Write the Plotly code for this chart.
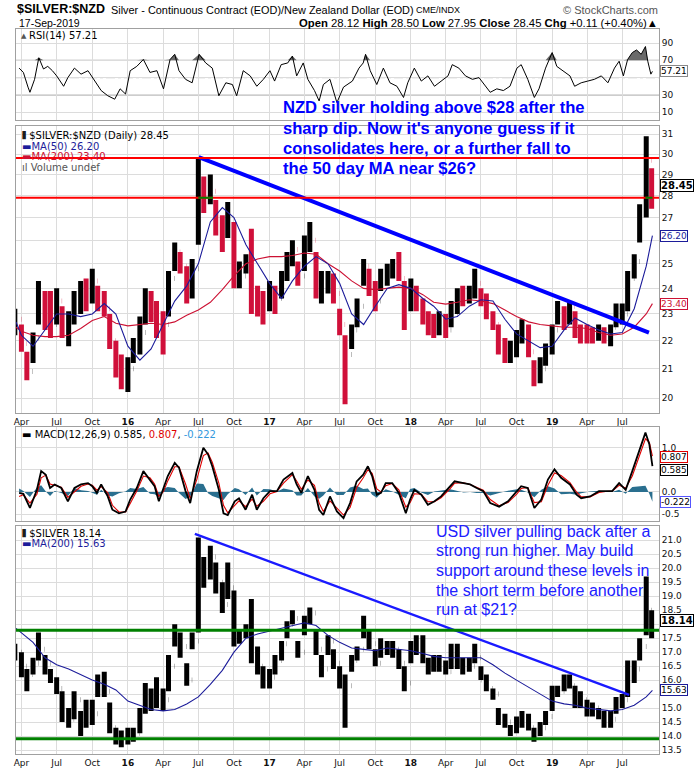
import math
import numpy as np
import pandas as pd
import plotly.graph_objects as go

# ---------------- data ----------------
bar_dates = pd.date_range("2015-03-15", "2019-09-15", freq="SMS")

nzd_first_open = 22.6
nzd_high = [23.2, 22.6, 21.6, 22.3, 24.3, 23.9, 23.9, 24.0, 23.3, 23.1,
            23.9, 24.3, 24.4, 24.8, 24.1, 23.9, 23.0, 22.0, 21.5, 21.4,
            22.1, 22.9, 24.0, 23.9, 23.5, 23.1, 24.7, 25.9, 25.5, 24.9,
            25.2, 29.8, 28.9, 29.0, 27.8, 27.1, 27.7, 26.8, 25.1, 25.4,
            26.5, 24.1, 23.9, 24.3, 24.1, 24.7, 25.5, 26.0, 25.1, 26.2,
            26.8, 25.5, 24.7, 24.7, 24.6, 23.2, 22.2, 22.6, 23.6, 25.2,
            24.8, 24.3, 24.8, 25.0, 25.2, 25.5, 24.3, 24.4, 24.1, 23.6,
            23.1, 23.0, 23.1, 23.0, 23.5, 24.0, 24.1, 24.1, 24.8, 24.0,
            23.8, 23.1, 22.6, 22.1, 22.0, 22.4, 22.8, 22.6, 21.3, 21.4,
            21.9, 22.6, 23.5, 23.3, 23.5, 23.1, 22.6, 22.6, 22.5, 22.6,
            22.5, 22.6, 23.4, 23.4, 24.7, 25.4, 27.6, 30.9, 29.3]
nzd_low = [22.2, 21.6, 20.6, 21.2, 22.6, 22.4, 22.1, 22.6, 22.1, 21.8,
           22.6, 23.0, 23.1, 23.4, 23.1, 22.9, 21.7, 20.7, 20.3, 20.2,
           21.2, 21.5, 22.6, 22.7, 22.1, 21.5, 22.9, 24.7, 24.6, 23.4,
           23.6, 25.8, 27.2, 27.6, 26.2, 25.5, 26.1, 24.0, 24.0, 24.6,
           23.0, 22.9, 22.6, 23.1, 23.0, 23.6, 24.3, 24.9, 24.1, 24.7,
           25.5, 23.6, 23.4, 23.8, 23.4, 22.2, 19.8, 21.7, 22.5, 24.1,
           23.7, 23.1, 23.9, 24.1, 24.4, 24.3, 22.4, 23.1, 23.1, 22.6,
           22.2, 22.1, 22.2, 22.1, 22.5, 23.0, 23.3, 23.4, 23.6, 23.3,
           22.8, 22.4, 21.5, 21.2, 21.2, 21.4, 21.9, 21.4, 20.4, 20.5,
           21.1, 21.5, 22.6, 22.4, 22.6, 22.1, 21.9, 21.9, 21.9, 22.0,
           21.9, 21.8, 22.5, 22.6, 23.1, 24.4, 25.9, 27.0, 27.4]
nzd_close = [22.8, 21.9, 20.9, 22.1, 23.5, 23.0, 22.6, 23.5, 22.5, 22.7,
             23.4, 23.8, 23.6, 24.3, 23.7, 23.2, 22.0, 21.2, 20.8, 21.0,
             21.8, 22.3, 23.5, 23.2, 22.8, 22.6, 24.4, 25.5, 24.9, 23.9,
             24.8, 28.6, 28.0, 28.2, 26.7, 26.2, 26.6, 24.4, 24.5, 25.0,
             23.4, 23.3, 23.2, 23.8, 23.6, 24.4, 25.1, 25.6, 24.5, 25.8,
             26.0, 24.0, 24.2, 24.4, 23.8, 22.6, 21.5, 22.4, 23.3, 24.9,
             24.0, 23.5, 24.5, 24.7, 24.8, 24.4, 23.3, 24.0, 23.5, 22.9,
             22.6, 22.5, 22.7, 22.4, 23.0, 23.7, 23.6, 23.9, 24.2, 23.5,
             23.0, 22.6, 21.7, 21.5, 21.6, 22.0, 22.3, 21.6, 20.8, 21.0,
             21.6, 22.4, 23.1, 22.8, 23.3, 22.3, 22.3, 22.2, 22.1, 22.3,
             22.0, 22.5, 22.9, 23.0, 24.4, 25.1, 27.3, 29.7, 28.45]

usd_first_open = 17.0
usd_high = [17.3, 17.0, 16.4, 16.8, 17.7, 16.9, 16.4, 16.1, 15.6, 15.0,
            15.6, 14.9, 15.3, 15.3, 16.2, 16.3, 15.2, 14.3, 14.2, 14.3,
            14.3, 15.0, 15.9, 15.7, 16.1, 15.7, 16.9, 18.0, 17.7, 16.6,
            17.7, 21.1, 20.4, 20.8, 20.2, 19.5, 20.2, 19.2, 17.8, 18.0,
            18.9, 17.2, 16.5, 16.4, 16.9, 17.4, 18.1, 18.5, 17.4, 18.3,
            18.6, 17.8, 16.9, 17.6, 17.1, 16.5, 16.2, 16.9, 17.2, 18.3,
            17.8, 17.1, 17.5, 17.4, 17.4, 17.1, 16.5, 17.4, 17.6, 17.6,
            16.8, 16.9, 16.9, 16.7, 17.3, 17.3, 16.8, 16.8, 17.3, 16.5,
            16.2, 15.7, 15.0, 14.8, 14.4, 14.7, 14.9, 14.8, 14.3, 14.5,
            14.9, 15.8, 15.8, 16.2, 16.2, 15.8, 15.6, 15.3, 15.2, 15.0,
            14.9, 14.9, 15.4, 15.5, 16.7, 16.7, 17.5, 19.7, 18.5]
usd_low = [16.7, 16.1, 15.6, 16.2, 16.7, 16.2, 15.9, 15.5, 14.5, 14.3,
           14.6, 14.0, 14.3, 14.4, 15.4, 15.4, 14.1, 13.7, 13.6, 13.7,
           13.8, 14.1, 14.8, 14.9, 15.0, 14.9, 15.6, 17.2, 16.8, 15.8,
           17.1, 17.7, 19.3, 19.6, 19.1, 18.4, 18.9, 17.2, 17.3, 17.5,
           16.6, 16.2, 15.7, 15.7, 16.2, 16.7, 17.5, 18.0, 16.8, 17.6,
           18.0, 16.9, 16.1, 16.9, 16.4, 15.7, 14.3, 16.3, 16.7, 17.5,
           17.1, 16.5, 16.8, 16.9, 16.8, 16.4, 15.6, 16.6, 16.9, 16.6,
           16.2, 16.3, 16.3, 16.2, 16.4, 16.4, 16.2, 16.3, 16.6, 16.0,
           15.6, 15.3, 14.4, 14.3, 14.0, 14.1, 14.3, 14.2, 13.8, 14.0,
           14.4, 14.9, 15.4, 15.6, 15.7, 15.0, 15.0, 14.7, 14.7, 14.6,
           14.3, 14.3, 14.8, 15.0, 15.4, 15.9, 16.7, 17.6, 17.5]
usd_close = [17.0, 16.5, 16.2, 16.6, 17.1, 16.6, 16.0, 15.7, 14.9, 14.6,
             15.3, 14.5, 14.8, 14.8, 15.9, 15.6, 14.3, 14.0, 13.9, 14.0,
             14.1, 14.9, 15.4, 15.3, 15.6, 15.3, 16.5, 17.6, 17.2, 16.0,
             17.4, 19.8, 20.0, 20.4, 19.5, 18.7, 19.3, 17.4, 17.6, 17.8,
             16.7, 16.5, 15.9, 16.1, 16.7, 17.3, 18.0, 18.2, 17.0, 18.2,
             18.4, 17.1, 16.4, 17.4, 16.6, 15.9, 15.8, 16.7, 17.1, 17.7,
             17.3, 16.6, 17.2, 17.0, 17.1, 16.6, 15.9, 17.2, 17.1, 16.7,
             16.5, 16.5, 16.5, 16.3, 16.5, 16.7, 16.4, 16.5, 16.8, 16.0,
             15.7, 15.5, 14.6, 14.5, 14.2, 14.6, 14.6, 14.3, 14.1, 14.3,
             14.7, 15.5, 15.6, 15.8, 15.8, 15.1, 15.3, 15.0, 15.0, 14.8,
             14.5, 14.6, 15.1, 15.3, 16.1, 16.4, 17.2, 18.5, 18.14]

ma_dates = (["2015-03-18"]
            + [d.strftime("%Y-%m-%d") for d in pd.date_range("2015-04-01", "2019-09-01", freq="MS")]
            + ["2019-09-17"])
nzd_ma50 = [22.7, 22.2, 21.8, 22.4, 23.0, 23.0, 22.9, 23.0, 23.4, 23.0,
            21.8, 21.3, 21.7, 22.6, 23.5, 24.1, 25.0, 26.8, 27.45, 27.0,
            25.8, 25.0, 24.2, 23.6, 24.3, 24.9, 25.3, 25.0, 24.2, 23.0,
            22.6, 23.3, 24.0, 24.15, 24.0, 23.6, 23.3, 22.8, 22.9, 23.3,
            23.55, 23.5, 22.8, 22.25, 22.0, 21.75, 21.8, 22.4, 22.85, 22.6,
            22.4, 22.25, 22.3, 23.2, 24.9, 26.2]
nzd_ma200 = [22.5, 22.35, 22.2, 22.15, 22.15, 22.2, 22.45, 22.75, 22.9, 22.65,
             22.55, 22.6, 22.65, 22.6, 22.7, 22.95, 23.15, 23.45, 23.95, 24.5,
             25.0, 25.2, 25.3, 25.3, 25.35, 25.45, 25.4, 25.0, 24.7, 24.3,
             24.0, 23.95, 24.0, 24.05, 24.0, 23.75, 23.45, 23.38, 23.45, 23.55,
             23.5, 23.4, 23.15, 22.9, 22.7, 22.6, 22.55, 22.5, 22.5, 22.45,
             22.3, 22.2, 22.25, 22.5, 23.0, 23.4]
usd_ma200 = [17.85, 17.7, 17.35, 16.8, 16.55, 16.4, 16.2, 16.0, 15.85, 15.65,
             15.25, 15.1, 14.95, 14.9, 14.95, 15.15, 15.4, 15.85, 16.35, 17.0,
             17.5, 17.65, 17.75, 17.85, 17.95, 18.05, 17.95, 17.6, 17.35, 17.15,
             17.1, 17.05, 17.15, 17.1, 17.05, 16.95, 16.85, 16.8, 16.8, 16.8,
             16.8, 16.55, 16.25, 16.0, 15.75, 15.5, 15.25, 15.15, 15.1, 15.0,
             14.95, 14.9, 14.95, 15.1, 15.4, 15.63]

rsi_dates = [
    "2015-03-26", "2015-04-06", "2015-04-18", "2015-04-23", "2015-05-05", "2015-05-16", "2015-05-28", "2015-06-08", "2015-06-20", "2015-07-01",
    "2015-07-19", "2015-07-30", "2015-08-16", "2015-09-02", "2015-09-20", "2015-10-07", "2015-10-24", "2015-11-10", "2015-11-28", "2015-12-12",
    "2015-12-26", "2016-01-07", "2016-01-24", "2016-02-10", "2016-02-27", "2016-03-16", "2016-04-02", "2016-04-19", "2016-05-01", "2016-05-12",
    "2016-05-29", "2016-06-15", "2016-07-03", "2016-07-20", "2016-08-06", "2016-08-23", "2016-09-10", "2016-09-27", "2016-10-08", "2016-10-25",
    "2016-11-12", "2016-11-29", "2016-12-16", "2017-01-02", "2017-01-14", "2017-01-31", "2017-02-17", "2017-03-01", "2017-03-12", "2017-03-29",
    "2017-04-10", "2017-04-27", "2017-05-09", "2017-05-20", "2017-06-06", "2017-06-24", "2017-07-11", "2017-08-03", "2017-08-20", "2017-08-31",
    "2017-09-06", "2017-09-18", "2017-10-05", "2017-10-22", "2017-11-08", "2017-11-26", "2017-12-13", "2017-12-24", "2018-01-10", "2018-01-28",
    "2018-02-14", "2018-03-03", "2018-03-20", "2018-04-07", "2018-04-18", "2018-05-05", "2018-05-22", "2018-06-09", "2018-06-26", "2018-07-13",
    "2018-07-25", "2018-08-11", "2018-08-28", "2018-09-14", "2018-10-02", "2018-10-13", "2018-10-30", "2018-11-16", "2018-11-28", "2018-12-15",
    "2019-01-01", "2019-01-13", "2019-01-30", "2019-02-16", "2019-02-28", "2019-03-17", "2019-04-03", "2019-04-20", "2019-05-08", "2019-05-25",
    "2019-06-11", "2019-06-23", "2019-07-04", "2019-07-15", "2019-07-27", "2019-08-07", "2019-08-19", "2019-08-30", "2019-09-05", "2019-09-13",
    "2019-09-17"]
rsi_values = [61, 56, 39, 33, 48, 73, 60, 63, 58, 52,
              40, 50, 61, 54, 58, 46, 35, 29, 25, 37,
              31, 58, 63, 71, 56, 58, 37, 71, 77, 58,
              48, 44, 77, 67, 61, 29, 44, 42, 29, 58,
              52, 40, 48, 58, 46, 65, 67, 75, 52, 67,
              48, 35, 23, 42, 48, 21, 39, 46, 61, 67,
              77, 58, 42, 61, 44, 40, 27, 44, 61, 46,
              52, 40, 46, 52, 65, 61, 52, 48, 50, 40,
              33, 37, 35, 40, 61, 65, 48, 27, 37, 61,
              79, 63, 58, 52, 40, 44, 46, 48, 52, 44,
              61, 69, 52, 71, 79, 82, 77, 86, 69, 54,
              57.21]

macd_dates = [
    "2015-03-26", "2015-04-06", "2015-04-23", "2015-05-11", "2015-05-22", "2015-06-03", "2015-06-14", "2015-06-26", "2015-07-13", "2015-07-30",
    "2015-08-16", "2015-09-02", "2015-09-20", "2015-10-01", "2015-10-13", "2015-10-24", "2015-11-10", "2015-11-22", "2015-12-09", "2015-12-26",
    "2016-01-07", "2016-01-24", "2016-02-10", "2016-02-27", "2016-03-10", "2016-03-21", "2016-04-02", "2016-04-13", "2016-05-01", "2016-05-12",
    "2016-05-29", "2016-06-10", "2016-06-27", "2016-07-14", "2016-07-26", "2016-08-06", "2016-08-23", "2016-09-04", "2016-09-15", "2016-10-03",
    "2016-10-14", "2016-10-31", "2016-11-17", "2016-11-29", "2016-12-16", "2017-01-02", "2017-01-20", "2017-02-06", "2017-03-01", "2017-03-12",
    "2017-03-24", "2017-04-10", "2017-04-27", "2017-05-09", "2017-05-20", "2017-06-06", "2017-06-24", "2017-07-11", "2017-07-28", "2017-08-14",
    "2017-08-31", "2017-09-12", "2017-09-23", "2017-10-05", "2017-10-16", "2017-10-28", "2017-11-14", "2017-12-01", "2017-12-19", "2017-12-30",
    "2018-01-10", "2018-01-28", "2018-02-14", "2018-03-03", "2018-03-20", "2018-04-12", "2018-04-24", "2018-05-17", "2018-06-03", "2018-06-20",
    "2018-07-07", "2018-07-25", "2018-08-17", "2018-09-09", "2018-10-02", "2018-10-13", "2018-10-30", "2018-11-16", "2018-12-04", "2018-12-21",
    "2019-01-07", "2019-01-24", "2019-02-16", "2019-03-05", "2019-03-17", "2019-04-09", "2019-05-02", "2019-05-19", "2019-06-05", "2019-06-23",
    "2019-07-10", "2019-07-27", "2019-08-13", "2019-08-30", "2019-09-09", "2019-09-17"]
macd_line = [-0.02, -0.04, -0.36, 0.05, 0.47, 0.39, 0.09, 0.17, 0.09, -0.21,
             0.09, 0.17, 0.20, 0.13, -0.02, 0.17, -0.10, -0.40, -0.48, -0.44,
             -0.17, 0.09, 0.47, 0.28, 0.13, -0.21, 0.09, 0.36, 0.66, 0.55,
             0.02, -0.25, 0.47, 1.00, 0.85, 0.58, 0.05, -0.48, -0.52, -0.21,
             -0.14, -0.40, -0.06, -0.40, -0.14, 0.02, 0.02, 0.28, 0.43, 0.17,
             -0.02, 0.36, 0.05, -0.40, -0.52, -0.10, -0.44, -0.59, -0.25, 0.24,
             0.39, 0.58, 0.36, -0.06, -0.02, 0.20, 0.20, -0.02, -0.48, -0.17,
             0.05, -0.06, -0.29, -0.21, -0.10, 0.13, 0.24, 0.20, 0.17, 0.09,
             0.02, -0.25, -0.33, -0.21, 0.02, 0.13, 0.09, -0.36, -0.17, 0.28,
             0.51, 0.32, 0.17, -0.06, -0.14, -0.10, 0.02, 0.02, 0.02, 0.20,
             0.05, 0.47, 0.89, 1.34, 1.08, 0.585]
macd_signal = [-0.10, -0.06, -0.25, -0.05, 0.32, 0.38, 0.18, 0.15, 0.11, -0.12,
               0.00, 0.13, 0.18, 0.15, 0.04, 0.12, -0.02, -0.30, -0.45, -0.45,
               -0.26, 0.02, 0.36, 0.32, 0.18, -0.10, 0.01, 0.25, 0.57, 0.57,
               0.18, -0.15, 0.28, 0.82, 0.88, 0.67, 0.20, -0.30, -0.47, -0.30,
               -0.20, -0.33, -0.16, -0.32, -0.21, -0.04, 0.01, 0.20, 0.39, 0.25,
               0.06, 0.27, 0.15, -0.25, -0.44, -0.20, -0.37, -0.52, -0.35, 0.10,
               0.32, 0.50, 0.42, 0.07, 0.00, 0.14, 0.19, 0.05, -0.34, -0.24,
               -0.04, -0.05, -0.22, -0.22, -0.13, 0.07, 0.20, 0.21, 0.17, 0.11,
               0.04, -0.17, -0.31, -0.24, -0.04, 0.08, 0.10, -0.24, -0.22, 0.15,
               0.43, 0.37, 0.21, 0.00, -0.11, -0.11, -0.01, 0.01, 0.02, 0.15,
               0.09, 0.36, 0.77, 1.20, 1.12, 0.807]

# chart annotations (levels / trend lines / day quote)
nzd_levels = [29.8, 27.9]
usd_levels = [17.78, 13.9]
nzd_trend_dates = ["2016-07-02", "2019-09-08"]
nzd_trend_values = [29.85, 22.3]
usd_trend_dates = ["2016-06-22", "2019-07-19"]
usd_trend_values = [21.23, 15.47]
nzd_mark_dates = [["2016-07-01", "2016-08-08"], ["2019-08-30", "2019-09-17"]]
day_quote = {"Open": "28.12", "High": "28.50", "Low": "27.95", "Close": "28.45"}
day_chg = "+0.11 (+0.40%)"
nzd_note = ["NZD silver holding above $28 after the",
            "sharp dip. Now it's anyone guess if it",
            "consolidates here, or a further fall to",
            "the 50 day MA near $26?"]
usd_note = ["USD silver pulling back after a",
            "strong run higher. May build",
            "support around these levels in",
            "the short term before another",
            "run at $21?"]

# ---------------- layout helpers ----------------
W, H = 700, 780
L, R, T, B = 16, 41, 29, 16
PW, PH = W - L - R, H - T - B
GRID = "#dcdcdc"
BORDER = "#a0a0a0"
TF = "DejaVu Sans, Verdana, sans-serif"
AF = "Liberation Sans, Arial, sans-serif"
NAVY = "#1c1c9a"
CRIM = "#cc1133"
BAR_W = 5


def dom(top_px, bot_px):
    return [(H - B - bot_px) / PH, (H - B - top_px) / PH]


def px(x):
    return (x - L) / PW


def py(y):
    return (H - B - y) / PH


x_range = ["2015-03-18", "2019-10-04"]
qticks = pd.date_range("2015-04-01", "2019-07-01", freq="QS")
qtext = [f"<b>{d.strftime('%y')}</b>" if d.month == 1 else d.strftime("%b") for d in qticks]

nzd_open = [nzd_first_open] + nzd_close[:-1]
usd_open = [usd_first_open] + usd_close[:-1]
macd_hist = (np.array(macd_line) - np.array(macd_signal)).tolist()

fig = go.Figure()

# RSI panel
fig.add_trace(go.Scatter(x=rsi_dates, y=[70] * len(rsi_dates), mode="lines",
                         line=dict(width=0), hoverinfo="skip", xaxis="x", yaxis="y"))
fig.add_trace(go.Scatter(x=rsi_dates, y=np.maximum(np.array(rsi_values), 70).tolist(), mode="lines",
                         line=dict(width=0), fill="tonexty", fillcolor="rgba(90,90,90,0.9)",
                         hoverinfo="skip", xaxis="x", yaxis="y"))
fig.add_trace(go.Scatter(x=rsi_dates, y=rsi_values, mode="lines", line=dict(color="black", width=1),
                         xaxis="x", yaxis="y"))

# NZD price panel
fig.add_trace(go.Ohlc(x=bar_dates, open=nzd_open, high=nzd_high, low=nzd_low, close=nzd_close,
                      increasing=dict(line=dict(color="black", width=BAR_W)),
                      decreasing=dict(line=dict(color="#d0103a", width=BAR_W)),
                      tickwidth=0.05, hoverinfo="skip", xaxis="x2", yaxis="y2"))
fig.add_trace(go.Scatter(x=ma_dates, y=nzd_ma200, mode="lines", line=dict(color=CRIM, width=1.1),
                         xaxis="x2", yaxis="y2"))
fig.add_trace(go.Scatter(x=ma_dates, y=nzd_ma50, mode="lines", line=dict(color=NAVY, width=1.1),
                         xaxis="x2", yaxis="y2"))
fig.add_trace(go.Scatter(x=nzd_trend_dates, y=nzd_trend_values, mode="lines",
                         line=dict(color="#0000ff", width=4), xaxis="x2", yaxis="y2"))

# MACD panel
fig.add_trace(go.Scatter(x=macd_dates, y=macd_hist, mode="lines", line=dict(width=0, color="#2a6f8f"),
                         fill="tozeroy", fillcolor="#2a6f8f", xaxis="x3", yaxis="y3"))
fig.add_trace(go.Scatter(x=macd_dates, y=macd_signal, mode="lines", line=dict(color="#e00000", width=1.1),
                         xaxis="x3", yaxis="y3"))
fig.add_trace(go.Scatter(x=macd_dates, y=macd_line, mode="lines", line=dict(color="black", width=1.8),
                         xaxis="x3", yaxis="y3"))

# USD price panel
fig.add_trace(go.Ohlc(x=bar_dates, open=usd_open, high=usd_high, low=usd_low, close=usd_close,
                      increasing=dict(line=dict(color="black", width=BAR_W)),
                      decreasing=dict(line=dict(color="black", width=BAR_W)),
                      tickwidth=0.05, hoverinfo="skip", xaxis="x4", yaxis="y4"))
fig.add_trace(go.Scatter(x=ma_dates, y=usd_ma200, mode="lines", line=dict(color=NAVY, width=1.1),
                         xaxis="x4", yaxis="y4"))
fig.add_trace(go.Scatter(x=usd_trend_dates, y=usd_trend_values, mode="lines",
                         line=dict(color="#1a1aff", width=2.5), xaxis="x4", yaxis="y4"))

shapes = []
for lv in nzd_levels:
    shapes.append(dict(type="line", xref="x2 domain", yref="y2", x0=0, x1=1, y0=lv, y1=lv,
                       line=dict(color="#ff0000", width=2)))
for d0, d1 in nzd_mark_dates:
    shapes.append(dict(type="line", xref="x2", yref="y2", x0=d0, x1=d1, y0=nzd_levels[1], y1=nzd_levels[1],
                       line=dict(color="#008000", width=2)))
for lv in usd_levels:
    shapes.append(dict(type="line", xref="x4 domain", yref="y4", x0=0, x1=1, y0=lv, y1=lv,
                       line=dict(color="#008000", width=3)))
for lv, dash in [(70, "solid"), (30, "solid"), (50, "dashdot")]:
    shapes.append(dict(type="line", xref="x domain", yref="y", x0=0, x1=1, y0=lv, y1=lv, layer="below",
                       line=dict(color="#7a7a7a", width=1, dash=dash)))


def xax(show, anchor):
    return dict(type="date", range=x_range, anchor=anchor, tickvals=qticks, ticktext=qtext,
                showticklabels=show, showgrid=True, gridcolor=GRID, gridwidth=1, ticks="",
                showline=True, linecolor=BORDER, mirror=True, zeroline=False,
                tickfont=dict(family=TF, size=9, color="#111"), rangeslider=dict(visible=False))


def yax(domain, anchor, **kw):
    d = dict(domain=domain, anchor=anchor, side="right", showgrid=True, gridcolor=GRID, gridwidth=1,
             ticks="", showline=True, linecolor=BORDER, mirror=True, zeroline=False,
             tickfont=dict(family=TF, size=9, color="#111"))
    d.update(kw)
    return d


anns = []


def txt(x, y, text, size=10, color="black", family=TF, xanchor="left", weight=None):
    font = dict(family=family, size=size, color=color)
    if weight:
        font["weight"] = weight
    anns.append(dict(xref="paper", yref="paper", x=px(x), y=py(y), text=text, showarrow=False,
                     xanchor=xanchor, yanchor="middle", font=font))


def box(yref, yval, text, border, tcolor="black", bold=False, yshift=0):
    anns.append(dict(xref="paper", yref=yref, x=1, y=yval, xanchor="left", yanchor="middle", xshift=1,
                     yshift=yshift, text=f"<b>{text}</b>" if bold else text, showarrow=False, bgcolor="white",
                     bordercolor=border, borderwidth=1, borderpad=0,
                     font=dict(family=TF, size=10 if bold else 9, color=tcolor)))


# header
txt(15, 9, "<b>$SILVER:$NZD</b>", size=12.5, family=AF)
txt(109, 10, "Silver - Continuous Contract (EOD)/New Zealand Dollar (EOD)", size=10.9, family=AF)
txt(414, 10, "CME/INDX", size=9, family=AF)
txt(660, 10, "© StockCharts.com", size=11, family=AF, color="#555", xanchor="right")
txt(17, 23, "17-Sep-2019", size=10.5, family=AF)
quote = " ".join(f"<b>{k}</b> {v}" for k, v in day_quote.items()) + f" <b>Chg</b> {day_chg}▲"
txt(660, 23, quote, size=11.3, family=AF, xanchor="right")

# panel legends
txt(19, 36, "▲", size=7, color="#555")
txt(27, 36, f"RSI(14) {rsi_values[-1]:.2f}", size=10)
txt(20, 137, f"<b>⫴</b> $SILVER:$NZD (Daily) {nzd_close[-1]:.2f}", size=10)
txt(20, 148, f"▬MA(50) {nzd_ma50[-1]:.2f}", size=10, color=NAVY)
txt(20, 158, f"▬MA(200) {nzd_ma200[-1]:.2f}", size=10, color=CRIM)
txt(20, 169, "ıl Volume undef", size=10, color="#555")
txt(20, 440, f"▬ MACD(12,26,9) {macd_line[-1]:.3f}, <span style='color:#e00000'>{macd_signal[-1]:.3f}</span>, "
             f"<span style='color:#3399dd'>{macd_hist[-1]:.3f}</span>", size=10)
txt(20, 540, f"<b>⫴</b> $SILVER {usd_close[-1]:.2f}", size=10)
txt(20, 551, f"▬MA(200) {usd_ma200[-1]:.2f}", size=10, color=NAVY)

# commentary
for i, line in enumerate(nzd_note):
    txt(281, 109 + i * 20.5, line, size=16.6, color="#0000ff", family=AF, weight="bold")
for i, line in enumerate(usd_note):
    txt(434, 538 + i * 20, line, size=16, color="#2020ff", family=AF)

# value boxes on the right axis
box("y", rsi_values[-1], f"{rsi_values[-1]:.2f}", "#888")
box("y2", math.log10(nzd_close[-1]), f"{nzd_close[-1]:.2f}", "black", bold=True)
box("y2", math.log10(nzd_ma50[-1]), f"{nzd_ma50[-1]:.2f}", NAVY, tcolor=NAVY)
box("y2", math.log10(nzd_ma200[-1]), f"{nzd_ma200[-1]:.2f}", CRIM, tcolor=CRIM)
box("y3", macd_signal[-1], f"{macd_signal[-1]:.3f}", "#e00000", yshift=-1)
box("y3", macd_line[-1], f"{macd_line[-1]:.3f}", "black", yshift=-4)
box("y3", macd_hist[-1], f"{macd_hist[-1]:.3f}", "#5555ff")
box("y4", usd_close[-1], f"{usd_close[-1]:.2f}", "black", bold=True)
box("y4", usd_ma200[-1], f"{usd_ma200[-1]:.2f}", NAVY)

# tick labels hidden where a value box covers them (as in the reference)
rsi_ticks = [10, 30, 50, 70, 90]
main_ticks = list(range(20, 32))
macd_ticks = [-0.5, 0.0, 0.5, 1.0]
usd_ticks = [13.5 + 0.5 * i for i in range(16)]
hidden = {"rsi": [50], "main": [26], "macd": [0.5], "usd": [18.0, 15.5]}

fig.update_layout(
    width=W, height=H, margin=dict(l=L, r=R, t=T, b=B), paper_bgcolor="white", plot_bgcolor="white",
    showlegend=False, hovermode=False,
    xaxis=xax(False, "y"), xaxis2=xax(True, "y2"), xaxis3=xax(False, "y3"), xaxis4=xax(True, "y4"),
    yaxis=yax(dom(29, 121), "x", range=[1.2, 106.3], tickvals=rsi_ticks,
              ticktext=["" if v in hidden["rsi"] else str(v) for v in rsi_ticks]),
    yaxis2=yax(dom(127, 418), "x2", type="log", range=[math.log10(19.52), math.log10(31.45)],
               tickvals=main_ticks, ticktext=["" if v in hidden["main"] else str(v) for v in main_ticks]),
    yaxis3=yax(dom(432, 528), "x3", range=[-0.659, 1.477], tickvals=macd_ticks,
               ticktext=["" if v in hidden["macd"] else f"{v:.1f}" for v in macd_ticks]),
    yaxis4=yax(dom(533, 764), "x4", range=[13.359, 21.504], tickvals=usd_ticks,
               ticktext=["" if v in hidden["usd"] else f"{v:.1f}" for v in usd_ticks]),
    shapes=shapes, annotations=anns,
)
for ax in ["xaxis2", "xaxis3", "xaxis4"]:
    fig.layout[ax].matches = "x"

fig.write_html("out.html")
